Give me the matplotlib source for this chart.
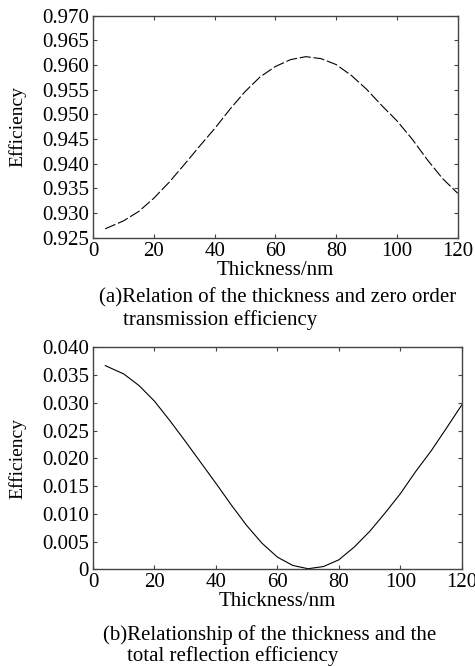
import matplotlib
matplotlib.use('Agg')
import matplotlib.pyplot as plt

plt.rcParams['font.family'] = ['Liberation Serif', 'DejaVu Serif']
plt.rcParams['font.size'] = 15

thickness = [4, 10, 15, 20, 25, 30, 35, 40, 45, 50, 55, 60,
             65, 70, 75, 80, 85, 90, 95, 100, 105, 110, 115, 120]
trans_eff = [0.9268, 0.9284, 0.9303, 0.9330, 0.9362, 0.9398, 0.9435, 0.9471,
             0.9510, 0.9546, 0.9576, 0.9597, 0.9611, 0.9617, 0.9613, 0.9601,
             0.9579, 0.9551, 0.9518, 0.9487, 0.9450, 0.9408, 0.9370, 0.9340]
refl_eff = [0.0367, 0.0352, 0.0331, 0.0303, 0.0268, 0.0231, 0.0193, 0.0155,
            0.0116, 0.0079, 0.0047, 0.0022, 0.0007, 0.0001, 0.0005, 0.0017,
            0.0040, 0.0068, 0.0101, 0.0136, 0.0176, 0.0213, 0.0254, 0.0296]

x_ticks = [0, 20, 40, 60, 80, 100, 120]
top_yticks = [0.925, 0.930, 0.935, 0.940, 0.945, 0.950, 0.955, 0.960, 0.965, 0.970]
top_ylabels = ['0.925', '0.930', '0.935', '0.940', '0.945', '0.950',
               '0.955', '0.960', '0.965', '0.970']
bot_yticks = [0, 0.005, 0.010, 0.015, 0.020, 0.025, 0.030, 0.035, 0.040]
bot_ylabels = ['0', '0.005', '0.010', '0.015', '0.020', '0.025',
               '0.030', '0.035', '0.040']

fig = plt.figure(figsize=(4.75, 6.66), dpi=100)
ax1 = fig.add_axes([0.1958, 0.6431, 0.7678, 0.3333])
ax2 = fig.add_axes([0.1958, 0.1452, 0.7762, 0.3333])


def style(ax):
    for s in ax.spines.values():
        s.set_color('#444444')
        s.set_linewidth(1.0)
    ax.tick_params(direction='in', length=3, width=0.8, color='#444444',
                   top=True, right=True, pad=3, labelsize=15)
    ax.set_xlim(0, 120)
    ax.set_xticks(x_ticks)
    ax.set_xlabel('Thickness/nm', labelpad=0)
    ax.set_ylabel('Efficiency', fontsize=14)
    ax.yaxis.set_label_coords(-0.182, 0.5)


ax1.plot(thickness, trans_eff, color='black', lw=0.8, dashes=(10, 2.5))
ax1.set_ylim(0.925, 0.970)
ax1.set_yticks(top_yticks)
ax1.set_yticklabels(top_ylabels)
style(ax1)

ax2.plot(thickness, refl_eff, color='black', lw=0.8)
ax2.set_ylim(0, 0.040)
ax2.set_yticks(bot_yticks)
ax2.set_yticklabels(bot_ylabels)
style(ax2)

fig.text(99 / 475, 1 - 298 / 666, '(a)Relation of the thickness and zero order',
         ha='left', va='center', fontsize=15)
fig.text(123 / 475, 1 - 320 / 666, 'transmission efficiency',
         ha='left', va='center', fontsize=15)
fig.text(103 / 475, 1 - 635 / 666, '(b)Relationship of the thickness and the',
         ha='left', va='center', fontsize=15)
fig.text(127 / 475, 1 - 656 / 666, 'total reflection efficiency',
         ha='left', va='center', fontsize=15)

fig.savefig('out.png', dpi=100)
